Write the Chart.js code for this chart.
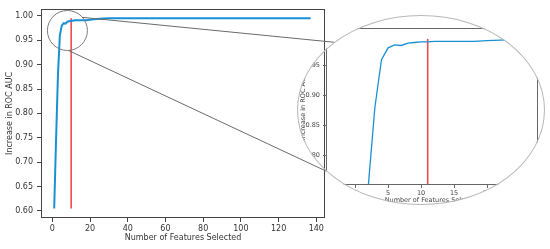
<!DOCTYPE html>
<html>
<head>
<meta charset="utf-8">
<script src="https://cdn.jsdelivr.net/npm/chart.js@4/dist/chart.umd.min.js"></script>
<style>
    html, body { margin: 0; padding: 0; background: #fff; }
    #wrap { position: relative; width: 550px; height: 249px; overflow: hidden; }
    #mainChart { position: absolute; left: 0; top: 0; }
    .lens { position: absolute; border-radius: 50%; box-sizing: border-box; }
    #lens { overflow: hidden; }
    #lensRing { border: 1px solid #b8b8b8; pointer-events: none; }
    #zoomChart { position: absolute; left: 0; top: 0; }
</style>
</head>
<body>
<div id="wrap">
    <canvas id="mainChart" width="550" height="249"></canvas>
    <div id="lens" class="lens"><canvas id="zoomChart" width="248" height="190"></canvas></div>
    <div id="lensRing" class="lens"></div>
</div>
<script>
    // data
    const featureCounts = [1, 2, 3, 4, 5, 6, 7, 8, 9, 10, 11, 12, 15, 18, 20, 22, 25, 30, 40, 50, 60, 70, 80, 90, 100, 110, 120, 130, 137];
    const aucValues = [0.605, 0.748, 0.880, 0.960, 0.980, 0.985, 0.984, 0.988, 0.989, 0.990, 0.990, 0.991, 0.991, 0.991, 0.992, 0.993, 0.994, 0.995, 0.995, 0.995, 0.995, 0.995, 0.995, 0.995, 0.995, 0.995, 0.995, 0.995, 0.995];
    const cutoffMain = 10;
    const cutoffZoom = 11;
    const cutoffRange = [0.605, 0.995];

    const mainXTicks = [0, 20, 40, 60, 80, 100, 120, 140];
    const mainYTicks = [0.60, 0.65, 0.70, 0.75, 0.80, 0.85, 0.90, 0.95, 1.00];
    const zoomXTicks = [0, 5, 10, 15, 20, 25];
    const zoomYTicks = [0.75, 0.80, 0.85, 0.90, 0.95, 1.00];

    // the magnified region (centre in data units) and the lens box on the page
    const focus = { x: 8, y: 0.97 };
    const lens = { left: 297, top: 15, width: 248, height: 190 };

    const blue = '#1a90d4';
    const red = '#f04a4a';
    const FONT = 'DejaVu Sans';

    ['lens', 'lensRing'].forEach(id => {
        const el = document.getElementById(id);
        el.style.left = lens.left + 'px';
        el.style.top = lens.top + 'px';
        el.style.width = lens.width + 'px';
        el.style.height = lens.height + 'px';
    });

    const points = featureCounts.map((x, i) => ({ x: x, y: aucValues[i] }));
    const cutLine = c => cutoffRange.map(y => ({ x: c, y: y }));

    const frame = color => ({
        id: 'frame',
        afterDraw(chart) {
            const a = chart.chartArea, c = chart.ctx;
            c.save();
            c.strokeStyle = color;
            c.lineWidth = 1;
            c.strokeRect(Math.round(a.left) + 0.5, Math.round(a.top) + 0.5,
                Math.round(a.right - a.left) - 1, Math.round(a.bottom - a.top) - 1);
            c.restore();
        }
    });

    // circle on the main plot and the two lines running out to the lens
    const magnifier = {
        id: 'magnifier',
        afterDraw(chart) {
            const c = chart.ctx;
            const cx = chart.scales.x.getPixelForValue(focus.x);
            const cy = chart.scales.y.getPixelForValue(focus.y);
            const r = 20;
            const ex = lens.left + lens.width / 2, ey = lens.top + lens.height / 2;
            const rx = lens.width / 2, ry = lens.height / 2;
            const deg = Math.PI / 180;
            c.save();
            c.strokeStyle = '#7a7a7a';
            c.lineWidth = 1;
            c.beginPath();
            c.arc(cx, cy, r, 0, Math.PI * 2);
            c.stroke();
            c.strokeStyle = '#6a6a6a';
            [[-41, -134.5], [87, 140]].forEach(([a1, a2]) => {
                c.beginPath();
                c.moveTo(cx + r * Math.cos(a1 * deg), cy + r * Math.sin(a1 * deg));
                c.lineTo(ex + rx * Math.cos(a2 * deg), ey + ry * Math.sin(a2 * deg));
                c.stroke();
            });
            c.restore();
        }
    };

    function axisOpts(o) {
        return {
            type: 'linear',
            min: o.min,
            max: o.max,
            afterBuildTicks: s => { s.ticks = o.ticks.map(v => ({ value: v })); },
            afterFit: o.fit,
            border: { display: false },
            grid: { drawOnChartArea: false, drawTicks: true, tickLength: o.tick, color: o.tickColor },
            ticks: {
                color: o.color,
                font: { family: FONT, size: o.size },
                padding: o.pad,
                maxRotation: 0,
                autoSkip: false,
                callback: o.fmt
            },
            title: {
                display: true,
                text: o.title,
                color: o.color,
                font: { family: FONT, size: o.size },
                padding: o.titlePad
            }
        };
    }

    new Chart(document.getElementById('mainChart').getContext('2d'), {
        type: 'line',
        data: {
            datasets: [{
                data: points,
                borderColor: blue,
                borderWidth: 2,
                pointRadius: 0,
                tension: 0
            }, {
                data: cutLine(cutoffMain),
                borderColor: red,
                borderWidth: 1.6,
                pointRadius: 0
            }]
        },
        options: {
            responsive: false,
            animation: false,
            layout: { padding: { left: 0, top: 7, right: 225, bottom: 0 } },
            plugins: { legend: { display: false }, tooltip: { enabled: false } },
            scales: {
                x: axisOpts({
                    min: -6, max: 144.6, ticks: mainXTicks, tick: 4, tickColor: '#444', color: '#333',
                    size: 8, pad: 2, fmt: v => v, title: 'Number of Features Selected',
                    titlePad: { top: 0, bottom: 6 }, fit: s => { s.height = 31; }
                }),
                y: axisOpts({
                    min: 0.5855, max: 1.0145, ticks: mainYTicks, tick: 4, tickColor: '#444', color: '#333',
                    size: 8, pad: 4, fmt: v => v.toFixed(2), title: 'Increase in ROC AUC',
                    titlePad: { top: 5, bottom: 0 }, fit: s => { s.width = 41; }
                })
            }
        },
        plugins: [frame('#444'), magnifier]
    });

    new Chart(document.getElementById('zoomChart').getContext('2d'), {
        type: 'line',
        data: {
            datasets: [{
                data: points,
                borderColor: blue,
                borderWidth: 1.3,
                pointRadius: 0,
                tension: 0
            }, {
                data: cutLine(cutoffZoom),
                borderColor: red,
                borderWidth: 1.6,
                pointRadius: 0
            }]
        },
        options: {
            responsive: false,
            animation: false,
            layout: { padding: { left: 0, top: 13, right: 7, bottom: 0 } },
            plugins: { legend: { display: false }, tooltip: { enabled: false } },
            scales: {
                x: axisOpts({
                    min: -4.4, max: 27.7, ticks: zoomXTicks, tick: 3, tickColor: '#666', color: '#444',
                    size: 6.5, pad: 1, fmt: v => v, title: 'Number of Features Selected',
                    titlePad: { top: 0, bottom: 1 }, fit: s => { s.height = 20; }
                }),
                y: axisOpts({
                    min: 0.75, max: 1.0133, ticks: zoomYTicks, tick: 3, tickColor: '#666', color: '#444',
                    size: 6.5, pad: 3, fmt: v => v.toFixed(2), title: 'Increase in ROC AUC',
                    titlePad: { top: 2, bottom: 0 }, fit: s => { s.width = 29; }
                })
            }
        },
        plugins: [frame('#666')]
    });
</script>
</body>
</html>
